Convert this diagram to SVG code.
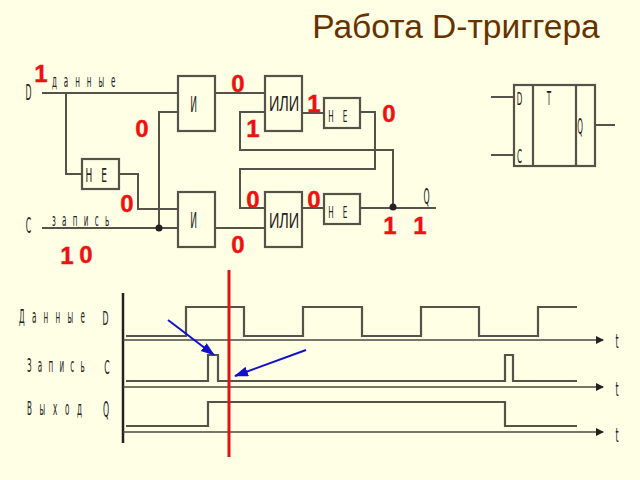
<svg xmlns="http://www.w3.org/2000/svg" width="640" height="480" viewBox="0 0 640 480">
<defs>
<style>
text{font-family:"DejaVu Sans","Liberation Sans",sans-serif;fill:#222}
.b{fill:none;stroke:#55524a;stroke-width:2.2}
.w{fill:none;stroke:#55524a;stroke-width:2}
.t{fill:none;stroke:#4a4840;stroke-width:1.6}
.s{fill:none;stroke:#55524a;stroke-width:2.2}
.n{font-family:"Liberation Sans",Arial,sans-serif;font-weight:bold;font-size:24px;fill:#ee1111;stroke:#ee1111;stroke-width:.4;text-anchor:middle}
.c{font-size:12px;text-anchor:middle}
.o{font-size:17px;font-family:"Liberation Sans",sans-serif;text-anchor:middle}
</style>
<marker id="ah" markerWidth="8" markerHeight="8" refX="7" refY="4" orient="auto" markerUnits="userSpaceOnUse"><path d="M0 0L8 4L0 8z" fill="#222"/></marker>
<marker id="bh" markerWidth="14" markerHeight="12" refX="13" refY="5" orient="auto" markerUnits="userSpaceOnUse"><path d="M0 0L14 5L0 10z" fill="#1111cc"/></marker>
</defs>
<rect width="640" height="480" fill="#ffffe5"/>
<text x="456" y="38" text-anchor="middle" style="font-family:'Liberation Sans',Arial,sans-serif;font-size:33.500px;fill:#663300">Работа D-триггера</text>
<g id="connectors">
<path class="w" d="M42 93H178M66 93V174H82M119 174H138V209H178M42 228H178M159 228V112H178M215 93H265M215 228H265M302 113H324M360 112H375V169H240V208H265M265 112H240V150H393V208M302 208H324M360 208H436"/>
<circle cx="159" cy="228" r="3.500" fill="#222"/><circle cx="393" cy="207" r="3.500" fill="#222"/>
<path class="w" d="M491 97H514M491 155H514M595 125H615"/>
</g>
<g id="and1"><rect class="b" x="178" y="76" width="37" height="55"/><text class="c" transform="translate(193.500,112) scale(.75,1.7)">И</text></g>
<g id="and2"><rect class="b" x="178" y="192" width="37" height="55"/><text class="c" transform="translate(193.500,228) scale(.75,1.7)">И</text></g>
<g id="or1"><rect class="b" x="265" y="76" width="37" height="55"/><text class="o" transform="translate(284,111) scale(.85,1.25)">ИЛИ</text></g>
<g id="or2"><rect class="b" x="265" y="192" width="37" height="55"/><text class="o" transform="translate(284,228) scale(.85,1.25)">ИЛИ</text></g>
<g id="not1"><rect class="b" x="82" y="159" width="37" height="30"/><text class="c" transform="translate(89,182) scale(.75,1.6)">Н</text><text class="c" transform="translate(104,182) scale(.75,1.6)">Е</text></g>
<g id="not2"><rect class="b" x="324" y="98" width="36" height="30"/><text class="c" transform="translate(331,122) scale(.6,1.25)">Н</text><text class="c" transform="translate(345,122) scale(.6,1.25)">Е</text></g>
<g id="not3"><rect class="b" x="324" y="194" width="36" height="30"/><text class="c" transform="translate(331,218) scale(.6,1.25)">Н</text><text class="c" transform="translate(345,218) scale(.6,1.25)">Е</text></g>
<g id="trigger"><rect class="b" x="514" y="85" width="81" height="81"/><path class="b" d="M533 85V166M576 85V166"/>
<text class="c" transform="translate(519.500,105) scale(.6,1.4)">D</text><text class="c" transform="translate(549,105) scale(.6,1.6)">Т</text><text class="c" transform="translate(580,134) scale(.6,1.8)">Q</text><text class="c" transform="translate(519.500,163) scale(.6,1.6)">C</text></g>
<g id="labels">
<text class="c" transform="translate(28.500,100) scale(.65,1.7)">D</text>
<text class="c" transform="translate(28.500,233) scale(.65,1.7)">C</text>
<text class="c" transform="translate(426.500,204) scale(.65,1.8)">Q</text>
<text transform="translate(52,87) scale(.6,1.5)" style="font-size:12px;letter-spacing:11.500px">данные</text>
<text transform="translate(52,226) scale(.6,1.5)" style="font-size:12px;letter-spacing:10.500px">запись</text>
<text transform="translate(19,323) scale(.6,1.65)" style="font-size:12px;letter-spacing:12.100px">Данные</text>
<text transform="translate(27,372) scale(.6,1.65)" style="font-size:12px;letter-spacing:10.400px">Запись</text>
<text transform="translate(27,415) scale(.6,1.65)" style="font-size:12px;letter-spacing:12.800px">Выход</text>
<text class="c" transform="translate(105.500,325) scale(.65,1.65)">D</text>
<text class="c" transform="translate(107,374) scale(.65,1.65)">C</text>
<text class="c" transform="translate(106,417) scale(.65,1.8)">Q</text>
<text class="c" transform="translate(617,348) scale(.65,1.6)">t</text>
<text class="c" transform="translate(617,396) scale(.65,1.6)">t</text>
<text class="c" transform="translate(617,442) scale(.65,1.6)">t</text>
</g>
<g id="timing">
<path d="M123 293V443" fill="none" stroke="#222" stroke-width="2.500"/>
<path class="t" marker-end="url(#ah)" d="M123 340H603"/><path class="t" marker-end="url(#ah)" d="M123 387H603"/><path class="t" marker-end="url(#ah)" d="M123 432H603"/>
<path class="s" d="M126 336H186V307H244V336H303V307H362V336H421V307H479V336H538V307H577"/>
<path class="s" d="M126 381H208V355H218V381H505V355H513V381H577"/>
<path class="s" d="M126 426H208V402H505V426H577"/>
<path d="M229 270V457" fill="none" stroke="#e01414" stroke-width="3"/>
<path d="M168 320L214 355" fill="none" stroke="#1111cc" stroke-width="2" marker-end="url(#bh)"/>
<path d="M306 350L235 376" fill="none" stroke="#1111cc" stroke-width="2" marker-end="url(#bh)"/>
</g>
<g id="values">
<text class="n" x="41" y="82">1</text><text class="n" x="238" y="92">0</text><text class="n" x="314" y="112">1</text><text class="n" x="389" y="122">0</text>
<text class="n" x="142" y="137">0</text><text class="n" x="253" y="137">1</text><text class="n" x="127" y="212">0</text><text class="n" x="253" y="208">0</text>
<text class="n" x="314" y="208">0</text><text class="n" x="390" y="234">1</text><text class="n" x="420" y="234">1</text><text class="n" x="238" y="253">0</text>
<text class="n" x="67" y="264">1</text><text class="n" x="86" y="263">0</text>
</g>
</svg>
